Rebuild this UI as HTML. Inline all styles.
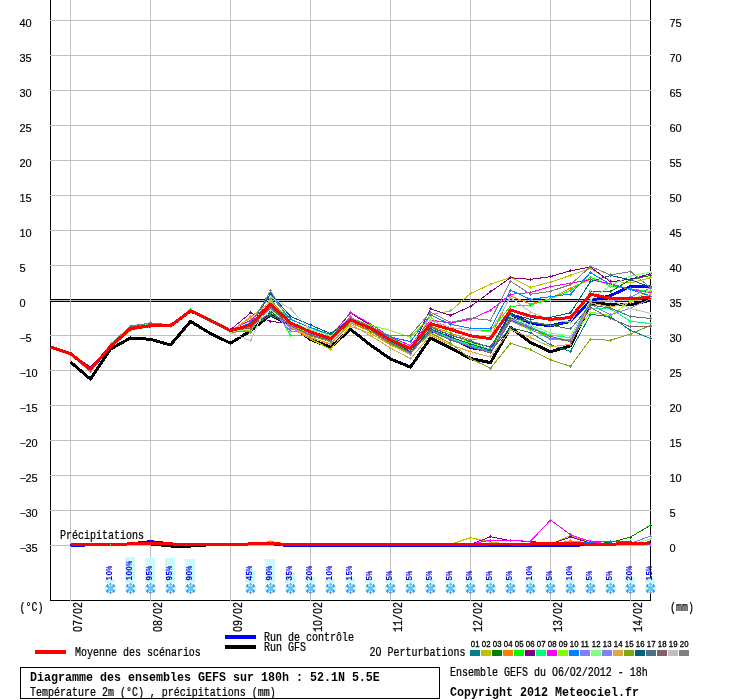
<!DOCTYPE html>
<html><head><meta charset="utf-8"><title>Diagramme des ensembles GEFS</title>
<style>
html,body{margin:0;padding:0;background:#fff;}
body{width:740px;height:700px;overflow:hidden;position:relative;font-family:"Liberation Sans",sans-serif;}
svg{position:absolute;left:0;top:0;display:block;will-change:transform;}
text{font-family:"Liberation Sans",sans-serif;fill:#000;}
.ax{font-size:11px;stroke:#000;stroke-width:0.15px;}
.m{font-family:"Liberation Mono",monospace;font-size:10px;stroke:#000;stroke-width:0.2px;}
.mb{font-family:"Liberation Mono",monospace;font-size:12px;font-weight:bold;}
.t{font-family:"Liberation Sans",sans-serif;font-size:7.8px;letter-spacing:0.1px;stroke:#000;stroke-width:0.3px;}
.pc{font-family:"Liberation Sans",sans-serif;font-size:8.2px;font-weight:bold;letter-spacing:0.44px;fill:#0000ee;}
.g{stroke:#c0c0c0;stroke-width:1;shape-rendering:crispEdges;}
.k{stroke:#000;stroke-width:1;shape-rendering:crispEdges;}
.p{fill:none;stroke-width:1;stroke-linejoin:round;shape-rendering:crispEdges;}
.th{fill:none;stroke-width:3;stroke-linejoin:round;stroke-linecap:butt;shape-rendering:crispEdges;}
</style></head><body>
<svg width="740" height="700" viewBox="0 0 740 700">
<rect x="0" y="0" width="740" height="700" fill="#fff"/>

<g class="k"><line x1="50" y1="299.5" x2="651" y2="299.5"/><line x1="50" y1="301.5" x2="651" y2="301.5"/></g>
<g class="k"><line x1="50.5" y1="0" x2="50.5" y2="601"/><line x1="650.5" y1="0" x2="650.5" y2="601"/><line x1="50" y1="600.5" x2="651" y2="600.5"/></g>
<g class="g">
<line x1="70.5" y1="0" x2="70.5" y2="601"/>
<line x1="150.5" y1="0" x2="150.5" y2="601"/>
<line x1="230.5" y1="0" x2="230.5" y2="601"/>
<line x1="310.5" y1="0" x2="310.5" y2="601"/>
<line x1="390.5" y1="0" x2="390.5" y2="601"/>
<line x1="470.5" y1="0" x2="470.5" y2="601"/>
<line x1="550.5" y1="0" x2="550.5" y2="601"/>
<line x1="630.5" y1="0" x2="630.5" y2="601"/>
<line x1="50" y1="20.5" x2="651" y2="20.5"/>
<line x1="50" y1="55.5" x2="651" y2="55.5"/>
<line x1="50" y1="90.5" x2="651" y2="90.5"/>
<line x1="50" y1="125.5" x2="651" y2="125.5"/>
<line x1="50" y1="160.5" x2="651" y2="160.5"/>
<line x1="50" y1="195.5" x2="651" y2="195.5"/>
<line x1="50" y1="230.5" x2="651" y2="230.5"/>
<line x1="50" y1="265.5" x2="651" y2="265.5"/>
<line x1="50" y1="300.5" x2="651" y2="300.5"/>
<line x1="50" y1="335.5" x2="651" y2="335.5"/>
<line x1="50" y1="370.5" x2="651" y2="370.5"/>
<line x1="50" y1="405.5" x2="651" y2="405.5"/>
<line x1="50" y1="440.5" x2="651" y2="440.5"/>
<line x1="50" y1="475.5" x2="651" y2="475.5"/>
<line x1="50" y1="510.5" x2="651" y2="510.5"/>
<line x1="50" y1="545.5" x2="651" y2="545.5"/>
</g>
<g fill="#c8fafa" shape-rendering="crispEdges">
<rect x="105" y="579" width="10" height="4"/>
<rect x="125" y="557" width="10" height="26"/>
<rect x="145" y="558" width="10" height="25"/>
<rect x="165" y="558" width="10" height="25"/>
<rect x="185" y="559" width="10" height="24"/>
<rect x="245" y="570" width="10" height="13"/>
<rect x="265" y="559" width="10" height="24"/>
<rect x="285" y="573" width="10" height="10"/>
<rect x="305" y="577" width="10" height="6"/>
<rect x="325" y="579" width="10" height="4"/>
<rect x="345" y="578" width="10" height="5"/>
<rect x="365" y="580" width="10" height="3"/>
<rect x="385" y="580" width="10" height="3"/>
<rect x="405" y="580" width="10" height="3"/>
<rect x="425" y="580" width="10" height="3"/>
<rect x="445" y="580" width="10" height="3"/>
<rect x="465" y="580" width="10" height="3"/>
<rect x="485" y="580" width="10" height="3"/>
<rect x="505" y="580" width="10" height="3"/>
<rect x="525" y="579" width="10" height="4"/>
<rect x="545" y="580" width="10" height="3"/>
<rect x="565" y="579" width="10" height="4"/>
<rect x="585" y="580" width="10" height="3"/>
<rect x="605" y="580" width="10" height="3"/>
<rect x="625" y="577" width="10" height="6"/>
<rect x="645" y="578" width="10" height="5"/>
</g>
<g>
<polyline class="th" stroke="#000" stroke-width="2.4" points="70.5,544.6 90.5,544.6 110.5,544.5 130.5,543.9 150.5,543.9 170.5,546.0 190.5,546.0 210.5,544.7 230.5,544.7 250.5,543.9 270.5,543.6 290.5,544.5 310.5,544.4 330.5,544.4 350.5,544.4 370.5,544.4 390.5,544.5 410.5,544.2 430.5,544.2 450.5,544.2 470.5,544.2 490.5,544.0 510.5,544.0 530.5,544.0 550.5,543.6 570.5,543.6 590.5,544.2 610.5,544.2 630.5,543.5 650.5,542.9"/>
<polyline class="p" stroke="#008080" points="70.5,544.3 90.5,544.3 110.5,544.3 130.5,544.3 150.5,544.3 170.5,544.3 190.5,544.3 210.5,544.3 230.5,544.3 250.5,544.3 270.5,544.3 290.5,544.3 310.5,544.3 330.5,544.3 350.5,544.3 370.5,544.3 390.5,544.3 410.5,544.3 430.5,544.3 450.5,544.3 470.5,544.3 490.5,544.3 510.5,544.3 530.5,544.3 550.5,544.3 570.5,544.3 590.5,542.2 610.5,541.6 630.5,541.8 650.5,544.3"/>
<path shape-rendering="crispEdges" fill="#008080" d="M589 542h3v1h-3zM590 541h1v3h-1z"/>
<path shape-rendering="crispEdges" fill="#008080" d="M609 541h3v1h-3zM610 540h1v3h-1z"/>
<path shape-rendering="crispEdges" fill="#008080" d="M629 541h3v1h-3zM630 540h1v3h-1z"/>
<polyline class="p" stroke="#c0c000" points="70.5,544.3 90.5,544.3 110.5,544.3 130.5,544.3 150.5,544.3 170.5,544.3 190.5,544.3 210.5,544.3 230.5,544.3 250.5,544.3 270.5,544.3 290.5,544.3 310.5,544.3 330.5,544.3 350.5,544.3 370.5,544.3 390.5,544.3 410.5,544.3 430.5,544.3 450.5,544.3 470.5,537.7 490.5,542.0 510.5,544.3 530.5,544.3 550.5,544.3 570.5,535.5 590.5,543.0 610.5,544.3 630.5,544.3 650.5,544.3"/>
<path shape-rendering="crispEdges" fill="#c0c000" d="M469 537h3v1h-3zM470 536h1v3h-1z"/>
<path shape-rendering="crispEdges" fill="#c0c000" d="M489 542h3v1h-3zM490 541h1v3h-1z"/>
<path shape-rendering="crispEdges" fill="#c0c000" d="M569 535h3v1h-3zM570 534h1v3h-1z"/>
<path shape-rendering="crispEdges" fill="#c0c000" d="M589 542h3v1h-3zM590 541h1v3h-1z"/>
<polyline class="p" stroke="#008000" points="70.5,544.3 90.5,544.3 110.5,544.3 130.5,544.3 150.5,544.3 170.5,544.3 190.5,544.3 210.5,544.3 230.5,544.3 250.5,544.3 270.5,544.3 290.5,544.3 310.5,544.3 330.5,544.3 350.5,544.3 370.5,544.3 390.5,544.3 410.5,544.3 430.5,544.3 450.5,544.3 470.5,544.3 490.5,544.3 510.5,544.3 530.5,544.3 550.5,544.3 570.5,544.3 590.5,544.0 610.5,542.5 630.5,537.1 650.5,525.2"/>
<path shape-rendering="crispEdges" fill="#008000" d="M609 542h3v1h-3zM610 541h1v3h-1z"/>
<path shape-rendering="crispEdges" fill="#008000" d="M629 537h3v1h-3zM630 536h1v3h-1z"/>
<path shape-rendering="crispEdges" fill="#008000" d="M649 525h3v1h-3zM650 524h1v3h-1z"/>
<polyline class="p" stroke="#ff8000" points="70.5,544.3 90.5,544.3 110.5,544.3 130.5,544.3 150.5,544.3 170.5,544.3 190.5,544.3 210.5,544.3 230.5,544.3 250.5,544.3 270.5,541.5 290.5,544.3 310.5,544.3 330.5,544.3 350.5,544.3 370.5,544.3 390.5,544.3 410.5,544.3 430.5,544.3 450.5,544.3 470.5,544.3 490.5,544.3 510.5,544.3 530.5,544.3 550.5,544.3 570.5,541.0 590.5,543.0 610.5,544.3 630.5,544.3 650.5,544.3"/>
<path shape-rendering="crispEdges" fill="#ff8000" d="M269 541h3v1h-3zM270 540h1v3h-1z"/>
<path shape-rendering="crispEdges" fill="#ff8000" d="M569 540h3v1h-3zM570 539h1v3h-1z"/>
<path shape-rendering="crispEdges" fill="#ff8000" d="M589 542h3v1h-3zM590 541h1v3h-1z"/>
<polyline class="p" stroke="#00ff00" points="70.5,544.3 90.5,544.3 110.5,544.3 130.5,544.3 150.5,544.3 170.5,544.3 190.5,544.3 210.5,544.3 230.5,544.3 250.5,544.3 270.5,544.3 290.5,544.3 310.5,544.3 330.5,544.3 350.5,544.3 370.5,544.3 390.5,544.3 410.5,544.3 430.5,544.3 450.5,544.3 470.5,544.3 490.5,544.3 510.5,544.3 530.5,544.3 550.5,542.0 570.5,543.0 590.5,544.3 610.5,544.3 630.5,544.3 650.5,544.3"/>
<path shape-rendering="crispEdges" fill="#00ff00" d="M549 542h3v1h-3zM550 541h1v3h-1z"/>
<path shape-rendering="crispEdges" fill="#00ff00" d="M569 542h3v1h-3zM570 541h1v3h-1z"/>
<polyline class="p" stroke="#800080" points="70.5,544.3 90.5,544.3 110.5,544.3 130.5,544.3 150.5,544.3 170.5,544.3 190.5,544.3 210.5,544.3 230.5,544.3 250.5,544.3 270.5,544.3 290.5,544.3 310.5,544.3 330.5,544.3 350.5,544.3 370.5,544.3 390.5,544.3 410.5,544.3 430.5,544.3 450.5,544.3 470.5,544.3 490.5,536.8 510.5,540.7 530.5,541.3 550.5,544.0 570.5,537.0 590.5,543.0 610.5,544.3 630.5,544.3 650.5,544.3"/>
<path shape-rendering="crispEdges" fill="#800080" d="M489 536h3v1h-3zM490 535h1v3h-1z"/>
<path shape-rendering="crispEdges" fill="#800080" d="M509 540h3v1h-3zM510 539h1v3h-1z"/>
<path shape-rendering="crispEdges" fill="#800080" d="M529 541h3v1h-3zM530 540h1v3h-1z"/>
<path shape-rendering="crispEdges" fill="#800080" d="M569 536h3v1h-3zM570 535h1v3h-1z"/>
<path shape-rendering="crispEdges" fill="#800080" d="M589 542h3v1h-3zM590 541h1v3h-1z"/>
<polyline class="p" stroke="#ff00ff" points="70.5,544.3 90.5,544.3 110.5,544.3 130.5,544.3 150.5,544.3 170.5,544.3 190.5,544.3 210.5,544.3 230.5,544.3 250.5,544.3 270.5,544.3 290.5,544.3 310.5,544.3 330.5,544.3 350.5,544.3 370.5,544.3 390.5,544.3 410.5,544.3 430.5,544.3 450.5,544.3 470.5,544.3 490.5,540.0 510.5,540.5 530.5,541.3 550.5,520.0 570.5,534.7 590.5,541.5 610.5,544.3 630.5,544.3 650.5,544.3"/>
<path shape-rendering="crispEdges" fill="#ff00ff" d="M489 540h3v1h-3zM490 539h1v3h-1z"/>
<path shape-rendering="crispEdges" fill="#ff00ff" d="M509 540h3v1h-3zM510 539h1v3h-1z"/>
<path shape-rendering="crispEdges" fill="#ff00ff" d="M529 541h3v1h-3zM530 540h1v3h-1z"/>
<path shape-rendering="crispEdges" fill="#ff00ff" d="M549 520h3v1h-3zM550 519h1v3h-1z"/>
<path shape-rendering="crispEdges" fill="#ff00ff" d="M569 534h3v1h-3zM570 533h1v3h-1z"/>
<path shape-rendering="crispEdges" fill="#ff00ff" d="M589 541h3v1h-3zM590 540h1v3h-1z"/>
<polyline class="p" stroke="#0080ff" points="70.5,544.3 90.5,544.3 110.5,544.3 130.5,544.3 150.5,542.5 170.5,544.3 190.5,544.3 210.5,544.3 230.5,544.3 250.5,544.3 270.5,543.0 290.5,544.3 310.5,544.3 330.5,544.3 350.5,544.3 370.5,544.3 390.5,544.3 410.5,544.3 430.5,544.3 450.5,544.3 470.5,544.3 490.5,544.3 510.5,544.3 530.5,544.3 550.5,544.3 570.5,544.3 590.5,542.0 610.5,541.8 630.5,542.2 650.5,544.3"/>
<path shape-rendering="crispEdges" fill="#0080ff" d="M149 542h3v1h-3zM150 541h1v3h-1z"/>
<path shape-rendering="crispEdges" fill="#0080ff" d="M269 542h3v1h-3zM270 541h1v3h-1z"/>
<path shape-rendering="crispEdges" fill="#0080ff" d="M589 542h3v1h-3zM590 541h1v3h-1z"/>
<path shape-rendering="crispEdges" fill="#0080ff" d="M609 541h3v1h-3zM610 540h1v3h-1z"/>
<path shape-rendering="crispEdges" fill="#0080ff" d="M629 542h3v1h-3zM630 541h1v3h-1z"/>
<polyline class="p" stroke="#8080ff" points="70.5,544.3 90.5,544.3 110.5,544.3 130.5,544.3 150.5,544.3 170.5,544.3 190.5,544.3 210.5,544.3 230.5,544.3 250.5,544.3 270.5,544.3 290.5,544.3 310.5,544.3 330.5,544.3 350.5,544.3 370.5,544.3 390.5,544.3 410.5,544.3 430.5,544.3 450.5,544.3 470.5,544.3 490.5,544.3 510.5,544.3 530.5,544.3 550.5,544.3 570.5,544.3 590.5,544.3 610.5,544.3 630.5,543.3 650.5,536.2"/>
<path shape-rendering="crispEdges" fill="#8080ff" d="M629 543h3v1h-3zM630 542h1v3h-1z"/>
<path shape-rendering="crispEdges" fill="#8080ff" d="M649 536h3v1h-3zM650 535h1v3h-1z"/>
<polyline class="p" stroke="#80ff80" points="70.5,544.3 90.5,544.3 110.5,544.3 130.5,544.3 150.5,541.3 170.5,544.3 190.5,544.3 210.5,544.3 230.5,544.3 250.5,544.3 270.5,542.0 290.5,544.3 310.5,544.3 330.5,544.3 350.5,544.3 370.5,544.3 390.5,544.3 410.5,544.3 430.5,544.3 450.5,544.3 470.5,544.3 490.5,544.3 510.5,544.3 530.5,544.3 550.5,544.3 570.5,544.3 590.5,544.3 610.5,544.3 630.5,544.3 650.5,539.0"/>
<path shape-rendering="crispEdges" fill="#80ff80" d="M149 541h3v1h-3zM150 540h1v3h-1z"/>
<path shape-rendering="crispEdges" fill="#80ff80" d="M269 542h3v1h-3zM270 541h1v3h-1z"/>
<path shape-rendering="crispEdges" fill="#80ff80" d="M649 538h3v1h-3zM650 537h1v3h-1z"/>
<polyline class="th" stroke="#0000ff" stroke-width="2.4" points="70.5,546.0 90.5,544.6 110.5,544.5 130.5,543.9 150.5,541.6 170.5,543.9 190.5,544.7 210.5,544.7 230.5,544.7 250.5,543.9 270.5,543.6 290.5,545.9 310.5,545.9 330.5,545.9 350.5,545.9 370.5,545.6 390.5,545.9 410.5,545.9 430.5,545.9 450.5,545.9 470.5,545.9 490.5,545.9 510.5,545.9 530.5,545.9 550.5,545.9 570.5,545.7 590.5,544.2 610.5,544.2 630.5,543.5 650.5,542.9"/>
<polyline class="th" stroke="#ff0000" stroke-width="3.4" points="70.5,544.6 90.5,544.6 110.5,544.5 130.5,543.9 150.5,543.9 170.5,543.9 190.5,544.7 210.5,544.7 230.5,544.7 250.5,543.9 270.5,543.6 290.5,544.5 310.5,544.4 330.5,544.4 350.5,544.4 370.5,544.4 390.5,544.5 410.5,544.2 430.5,544.2 450.5,544.2 470.5,544.2 490.5,544.0 510.5,544.0 530.5,544.0 550.5,543.6 570.5,543.6 590.5,544.2 610.5,544.2 630.5,543.5 650.5,542.9"/>
</g>
<g>
<polyline class="th" stroke="#000" stroke-width="2.6" points="70.5,362.0 90.5,379.2 110.5,349.0 130.5,338.0 150.5,339.3 170.5,345.0 190.5,321.4 210.5,333.5 230.5,343.2 250.5,331.0 270.5,315.0 290.5,325.0 310.5,339.5 330.5,347.1 350.5,329.3 370.5,345.0 390.5,359.0 410.5,367.1 430.5,338.0 450.5,348.0 470.5,358.6 490.5,362.6 510.5,327.6 530.5,342.5 550.5,351.8 570.5,345.8 590.5,303.3 610.5,304.3 630.5,304.8 650.5,300.1"/>
<polyline class="th" stroke="#0000ff" stroke-width="2.7" points="70.5,353.8 90.5,369.5 110.5,346.7 130.5,328.8 150.5,325.9 170.5,325.9 190.5,310.9 210.5,320.6 230.5,330.9 250.5,326.0 270.5,305.3 290.5,323.9 310.5,333.0 330.5,339.6 350.5,321.0 370.5,329.3 390.5,341.0 410.5,349.6 430.5,330.3 450.5,337.5 470.5,347.6 490.5,350.8 510.5,314.0 530.5,323.3 550.5,325.8 570.5,321.4 590.5,300.7 610.5,295.6 630.5,286.4 650.5,286.6"/>
<polyline class="p" stroke="#008080" points="70.5,354.1 90.5,370.3 110.5,346.5 130.5,327.6 150.5,325.2 170.5,326.2 190.5,311.2 210.5,320.4 230.5,331.2 250.5,327.0 270.5,315.3 290.5,324.9 310.5,333.0 330.5,340.6 350.5,322.0 370.5,330.3 390.5,343.0 410.5,351.6 430.5,330.0 450.5,338.0 470.5,346.0 490.5,351.0 510.5,327.6 530.5,332.6 550.5,345.0 570.5,351.4 590.5,314.4 610.5,316.8 630.5,330.3 650.5,338.6"/>
<polyline class="p" stroke="#c0c000" points="70.5,353.6 90.5,369.8 110.5,348.1 130.5,330.4 150.5,326.2 170.5,326.2 190.5,311.2 210.5,320.9 230.5,332.2 250.5,330.0 270.5,299.3 290.5,326.9 310.5,339.0 330.5,349.1 350.5,326.4 370.5,333.3 390.5,345.0 410.5,354.6 430.5,314.5 450.5,311.0 470.5,293.5 490.5,284.3 510.5,277.3 530.5,287.3 550.5,282.2 570.5,275.3 590.5,268.6 610.5,280.8 630.5,283.0 650.5,277.8"/>
<polyline class="p" stroke="#008000" points="70.5,353.6 90.5,369.3 110.5,346.5 130.5,328.1 150.5,325.7 170.5,325.7 190.5,310.7 210.5,320.4 230.5,331.2 250.5,328.0 270.5,311.3 290.5,325.9 310.5,334.0 330.5,339.6 350.5,321.0 370.5,329.3 390.5,342.0 410.5,351.6 430.5,328.0 450.5,335.0 470.5,342.0 490.5,347.0 510.5,315.0 530.5,322.0 550.5,325.6 570.5,322.0 590.5,291.6 610.5,291.6 630.5,279.6 650.5,275.6"/>
<polyline class="p" stroke="#ff8000" points="70.5,354.1 90.5,369.8 110.5,347.0 130.5,329.1 150.5,326.2 170.5,326.2 190.5,310.7 210.5,320.9 230.5,331.7 250.5,317.0 270.5,302.3 290.5,327.9 310.5,338.0 330.5,343.6 350.5,323.0 370.5,331.3 390.5,344.0 410.5,353.6 430.5,326.0 450.5,333.0 470.5,340.0 490.5,337.0 510.5,296.0 530.5,304.0 550.5,298.6 570.5,288.0 590.5,279.4 610.5,284.2 630.5,289.8 650.5,292.8"/>
<polyline class="p" stroke="#00ff00" points="70.5,353.1 90.5,369.3 110.5,346.0 130.5,327.6 150.5,325.2 170.5,325.7 190.5,309.7 210.5,320.4 230.5,331.2 250.5,332.0 270.5,301.3 290.5,335.4 310.5,335.0 330.5,337.6 350.5,320.0 370.5,327.3 390.5,338.0 410.5,347.6 430.5,320.0 450.5,327.7 470.5,330.0 490.5,331.0 510.5,306.3 530.5,305.2 550.5,298.8 570.5,290.3 590.5,277.2 610.5,286.0 630.5,288.8 650.5,291.5"/>
<polyline class="p" stroke="#800080" points="70.5,353.6 90.5,366.8 110.5,346.5 130.5,328.6 150.5,325.7 170.5,325.7 190.5,311.2 210.5,320.4 230.5,329.7 250.5,313.0 270.5,321.3 290.5,323.9 310.5,332.0 330.5,336.6 350.5,313.0 370.5,325.3 390.5,340.0 410.5,350.6 430.5,309.0 450.5,315.3 470.5,306.5 490.5,291.8 510.5,277.7 530.5,279.4 550.5,276.6 570.5,270.8 590.5,267.0 610.5,281.8 630.5,279.2 650.5,273.9"/>
<polyline class="p" stroke="#00ff80" points="70.5,353.6 90.5,369.8 110.5,346.0 130.5,326.0 150.5,324.7 170.5,325.7 190.5,310.7 210.5,319.9 230.5,330.7 250.5,326.0 270.5,302.3 290.5,318.9 310.5,328.0 330.5,335.6 350.5,321.0 370.5,329.3 390.5,341.0 410.5,350.6 430.5,329.0 450.5,338.0 470.5,345.0 490.5,350.0 510.5,319.0 530.5,327.0 550.5,335.3 570.5,337.6 590.5,308.0 610.5,308.7 630.5,321.2 650.5,323.6"/>
<polyline class="p" stroke="#ff00ff" points="70.5,353.6 90.5,369.3 110.5,346.5 130.5,328.6 150.5,325.7 170.5,325.7 190.5,310.7 210.5,320.4 230.5,330.2 250.5,320.5 270.5,303.3 290.5,324.9 310.5,333.0 330.5,336.6 350.5,312.5 370.5,324.0 390.5,337.0 410.5,345.6 430.5,320.0 450.5,323.1 470.5,319.4 490.5,310.2 510.5,294.3 530.5,292.5 550.5,286.5 570.5,283.3 590.5,279.6 610.5,283.8 630.5,289.3 650.5,292.8"/>
<polyline class="p" stroke="#80ff00" points="70.5,353.6 90.5,369.3 110.5,347.0 130.5,328.6 150.5,326.2 170.5,326.2 190.5,310.7 210.5,321.4 230.5,332.2 250.5,331.0 270.5,300.3 290.5,323.9 310.5,334.0 330.5,333.6 350.5,318.0 370.5,325.3 390.5,330.5 410.5,337.1 430.5,317.0 450.5,334.0 470.5,343.0 490.5,349.0 510.5,321.0 530.5,330.0 550.5,337.0 570.5,340.0 590.5,312.1 610.5,315.7 630.5,301.3 650.5,290.4"/>
<polyline class="p" stroke="#0080ff" points="70.5,353.6 90.5,369.3 110.5,344.5 130.5,327.6 150.5,325.2 170.5,325.7 190.5,311.2 210.5,320.4 230.5,330.7 250.5,323.0 270.5,295.3 290.5,319.4 310.5,327.5 330.5,334.6 350.5,318.0 370.5,327.3 390.5,337.0 410.5,341.6 430.5,315.0 450.5,324.3 470.5,328.3 490.5,328.8 510.5,290.2 530.5,299.4 550.5,296.6 570.5,294.1 590.5,272.7 610.5,284.4 630.5,289.4 650.5,296.0"/>
<polyline class="p" stroke="#8080ff" points="70.5,353.6 90.5,369.8 110.5,346.5 130.5,328.6 150.5,325.7 170.5,326.2 190.5,311.2 210.5,320.9 230.5,330.7 250.5,327.0 270.5,308.3 290.5,331.4 310.5,332.0 330.5,336.6 350.5,317.0 370.5,328.3 390.5,342.0 410.5,351.6 430.5,330.0 450.5,339.0 470.5,346.0 490.5,352.0 510.5,318.3 530.5,326.7 550.5,338.7 570.5,339.3 590.5,301.3 610.5,301.9 630.5,297.0 650.5,288.0"/>
<polyline class="p" stroke="#80ff80" points="70.5,354.1 90.5,369.3 110.5,346.5 130.5,327.6 150.5,325.7 170.5,325.7 190.5,310.2 210.5,320.4 230.5,331.7 250.5,329.0 270.5,310.8 290.5,321.9 310.5,329.5 330.5,335.6 350.5,321.0 370.5,330.3 390.5,341.0 410.5,350.6 430.5,328.0 450.5,337.0 470.5,344.0 490.5,349.0 510.5,317.0 530.5,325.0 550.5,333.0 570.5,336.0 590.5,300.0 610.5,285.3 630.5,276.1 650.5,272.1"/>
<polyline class="p" stroke="#8080ff" points="70.5,353.6 90.5,369.8 110.5,347.0 130.5,328.6 150.5,325.7 170.5,325.7 190.5,310.7 210.5,320.4 230.5,331.2 250.5,324.0 270.5,306.3 290.5,328.9 310.5,334.0 330.5,339.6 350.5,322.0 370.5,329.3 390.5,343.0 410.5,353.6 430.5,331.0 450.5,340.0 470.5,347.0 490.5,353.0 510.5,321.0 530.5,329.0 550.5,339.5 570.5,340.5 590.5,304.0 610.5,315.0 630.5,308.1 650.5,298.9"/>
<polyline class="p" stroke="#e0a840" points="70.5,354.1 90.5,369.3 110.5,347.0 130.5,330.2 150.5,326.7 170.5,326.2 190.5,311.2 210.5,321.4 230.5,331.7 250.5,318.0 270.5,301.3 290.5,326.9 310.5,337.0 330.5,344.6 350.5,324.0 370.5,335.7 390.5,348.0 410.5,358.6 430.5,335.1 450.5,344.9 470.5,351.7 490.5,356.9 510.5,329.6 530.5,337.6 550.5,346.7 570.5,344.4 590.5,303.0 610.5,307.0 630.5,302.4 650.5,294.4"/>
<polyline class="p" stroke="#80a810" points="70.5,353.6 90.5,369.3 110.5,346.5 130.5,328.6 150.5,326.2 170.5,325.7 190.5,310.7 210.5,320.9 230.5,332.2 250.5,331.5 270.5,298.8 290.5,324.9 310.5,336.0 330.5,341.6 350.5,322.0 370.5,331.3 390.5,344.0 410.5,352.6 430.5,333.0 450.5,343.1 470.5,358.6 490.5,368.3 510.5,343.3 530.5,349.6 550.5,359.9 570.5,366.3 590.5,339.2 610.5,340.3 630.5,334.0 650.5,325.5"/>
<polyline class="p" stroke="#006080" points="70.5,353.1 90.5,369.3 110.5,344.5 130.5,326.0 150.5,323.1 170.5,325.7 190.5,310.7 210.5,320.4 230.5,330.7 250.5,324.0 270.5,293.6 290.5,316.4 310.5,325.0 330.5,333.6 350.5,319.0 370.5,328.3 390.5,341.0 410.5,351.6 430.5,329.0 450.5,337.0 470.5,344.0 490.5,350.0 510.5,313.7 530.5,319.4 550.5,317.3 570.5,312.9 590.5,281.6 610.5,275.5 630.5,279.8 650.5,287.0"/>
<polyline class="p" stroke="#507080" points="70.5,353.6 90.5,370.3 110.5,345.5 130.5,326.6 150.5,323.1 170.5,324.7 190.5,310.7 210.5,320.4 230.5,331.2 250.5,326.0 270.5,313.3 290.5,323.9 310.5,332.0 330.5,338.6 350.5,319.0 370.5,328.3 390.5,341.0 410.5,349.6 430.5,327.0 450.5,335.0 470.5,341.0 490.5,347.5 510.5,318.0 530.5,321.7 550.5,325.2 570.5,329.0 590.5,305.0 610.5,308.1 630.5,316.5 650.5,318.5"/>
<polyline class="p" stroke="#806070" points="70.5,353.6 90.5,369.3 110.5,346.5 130.5,328.6 150.5,325.7 170.5,325.7 190.5,310.7 210.5,320.4 230.5,330.7 250.5,328.0 270.5,307.3 290.5,325.9 310.5,335.0 330.5,340.6 350.5,321.0 370.5,330.3 390.5,343.0 410.5,352.6 430.5,331.0 450.5,340.0 470.5,347.0 490.5,353.0 510.5,320.0 530.5,328.0 550.5,336.4 570.5,341.6 590.5,307.6 610.5,318.4 630.5,326.8 650.5,326.2"/>
<polyline class="p" stroke="#c0c0c0" points="70.5,353.6 90.5,370.8 110.5,346.5 130.5,328.6 150.5,325.7 170.5,325.7 190.5,310.7 210.5,320.4 230.5,332.7 250.5,340.7 270.5,296.8 290.5,308.9 310.5,330.0 330.5,339.6 350.5,322.0 370.5,329.3 390.5,340.0 410.5,346.6 430.5,321.0 450.5,327.5 470.5,330.5 490.5,331.5 510.5,297.5 530.5,312.0 550.5,320.0 570.5,322.0 590.5,291.0 610.5,300.0 630.5,308.6 650.5,313.3"/>
<polyline class="p" stroke="#808080" points="70.5,353.6 90.5,372.3 110.5,344.0 130.5,326.3 150.5,322.9 170.5,325.2 190.5,310.7 210.5,320.4 230.5,330.7 250.5,325.0 270.5,291.0 290.5,322.9 310.5,333.0 330.5,339.6 350.5,318.0 370.5,326.3 390.5,336.0 410.5,335.1 430.5,312.3 450.5,322.3 470.5,318.2 490.5,320.3 510.5,281.2 530.5,294.2 550.5,291.3 570.5,284.7 590.5,266.4 610.5,275.0 630.5,271.5 650.5,287.6"/>
<g fill="#008080" shape-rendering="crispEdges"><path d="M129 327h3v1h-3zM130 326h1v3h-1z"/><path d="M149 325h3v1h-3zM150 324h1v3h-1z"/><path d="M169 326h3v1h-3zM170 325h1v3h-1z"/><path d="M189 311h3v1h-3zM190 310h1v3h-1z"/><path d="M209 320h3v1h-3zM210 319h1v3h-1z"/><path d="M229 331h3v1h-3zM230 330h1v3h-1z"/><path d="M249 326h3v1h-3zM250 325h1v3h-1z"/><path d="M269 315h3v1h-3zM270 314h1v3h-1z"/><path d="M289 324h3v1h-3zM290 323h1v3h-1z"/><path d="M309 332h3v1h-3zM310 331h1v3h-1z"/><path d="M329 340h3v1h-3zM330 339h1v3h-1z"/><path d="M349 322h3v1h-3zM350 321h1v3h-1z"/><path d="M369 330h3v1h-3zM370 329h1v3h-1z"/><path d="M389 342h3v1h-3zM390 341h1v3h-1z"/><path d="M409 351h3v1h-3zM410 350h1v3h-1z"/><path d="M429 330h3v1h-3zM430 329h1v3h-1z"/><path d="M449 338h3v1h-3zM450 337h1v3h-1z"/><path d="M469 346h3v1h-3zM470 345h1v3h-1z"/><path d="M489 350h3v1h-3zM490 349h1v3h-1z"/><path d="M509 327h3v1h-3zM510 326h1v3h-1z"/><path d="M529 332h3v1h-3zM530 331h1v3h-1z"/><path d="M549 344h3v1h-3zM550 343h1v3h-1z"/><path d="M569 351h3v1h-3zM570 350h1v3h-1z"/><path d="M589 314h3v1h-3zM590 313h1v3h-1z"/><path d="M609 316h3v1h-3zM610 315h1v3h-1z"/><path d="M629 330h3v1h-3zM630 329h1v3h-1z"/><path d="M649 338h3v1h-3zM650 337h1v3h-1z"/></g>
<g fill="#c0c000" shape-rendering="crispEdges"><path d="M129 330h3v1h-3zM130 329h1v3h-1z"/><path d="M149 326h3v1h-3zM150 325h1v3h-1z"/><path d="M169 326h3v1h-3zM170 325h1v3h-1z"/><path d="M189 311h3v1h-3zM190 310h1v3h-1z"/><path d="M209 320h3v1h-3zM210 319h1v3h-1z"/><path d="M229 332h3v1h-3zM230 331h1v3h-1z"/><path d="M249 330h3v1h-3zM250 329h1v3h-1z"/><path d="M269 299h3v1h-3zM270 298h1v3h-1z"/><path d="M289 326h3v1h-3zM290 325h1v3h-1z"/><path d="M309 338h3v1h-3zM310 337h1v3h-1z"/><path d="M329 349h3v1h-3zM330 348h1v3h-1z"/><path d="M349 326h3v1h-3zM350 325h1v3h-1z"/><path d="M369 333h3v1h-3zM370 332h1v3h-1z"/><path d="M389 344h3v1h-3zM390 343h1v3h-1z"/><path d="M409 354h3v1h-3zM410 353h1v3h-1z"/><path d="M429 314h3v1h-3zM430 313h1v3h-1z"/><path d="M449 310h3v1h-3zM450 309h1v3h-1z"/><path d="M469 293h3v1h-3zM470 292h1v3h-1z"/><path d="M489 284h3v1h-3zM490 283h1v3h-1z"/><path d="M509 277h3v1h-3zM510 276h1v3h-1z"/><path d="M529 287h3v1h-3zM530 286h1v3h-1z"/><path d="M549 282h3v1h-3zM550 281h1v3h-1z"/><path d="M569 275h3v1h-3zM570 274h1v3h-1z"/><path d="M589 268h3v1h-3zM590 267h1v3h-1z"/><path d="M609 280h3v1h-3zM610 279h1v3h-1z"/><path d="M629 282h3v1h-3zM630 281h1v3h-1z"/><path d="M649 277h3v1h-3zM650 276h1v3h-1z"/></g>
<g fill="#008000" shape-rendering="crispEdges"><path d="M129 328h3v1h-3zM130 327h1v3h-1z"/><path d="M149 325h3v1h-3zM150 324h1v3h-1z"/><path d="M169 325h3v1h-3zM170 324h1v3h-1z"/><path d="M189 310h3v1h-3zM190 309h1v3h-1z"/><path d="M209 320h3v1h-3zM210 319h1v3h-1z"/><path d="M229 331h3v1h-3zM230 330h1v3h-1z"/><path d="M249 328h3v1h-3zM250 327h1v3h-1z"/><path d="M269 311h3v1h-3zM270 310h1v3h-1z"/><path d="M289 325h3v1h-3zM290 324h1v3h-1z"/><path d="M309 334h3v1h-3zM310 333h1v3h-1z"/><path d="M329 339h3v1h-3zM330 338h1v3h-1z"/><path d="M349 320h3v1h-3zM350 319h1v3h-1z"/><path d="M369 329h3v1h-3zM370 328h1v3h-1z"/><path d="M389 342h3v1h-3zM390 341h1v3h-1z"/><path d="M409 351h3v1h-3zM410 350h1v3h-1z"/><path d="M429 328h3v1h-3zM430 327h1v3h-1z"/><path d="M449 334h3v1h-3zM450 333h1v3h-1z"/><path d="M469 342h3v1h-3zM470 341h1v3h-1z"/><path d="M489 346h3v1h-3zM490 345h1v3h-1z"/><path d="M509 314h3v1h-3zM510 313h1v3h-1z"/><path d="M529 322h3v1h-3zM530 321h1v3h-1z"/><path d="M549 325h3v1h-3zM550 324h1v3h-1z"/><path d="M569 322h3v1h-3zM570 321h1v3h-1z"/><path d="M589 291h3v1h-3zM590 290h1v3h-1z"/><path d="M609 291h3v1h-3zM610 290h1v3h-1z"/><path d="M629 279h3v1h-3zM630 278h1v3h-1z"/><path d="M649 275h3v1h-3zM650 274h1v3h-1z"/></g>
<g fill="#ff8000" shape-rendering="crispEdges"><path d="M129 329h3v1h-3zM130 328h1v3h-1z"/><path d="M149 326h3v1h-3zM150 325h1v3h-1z"/><path d="M169 326h3v1h-3zM170 325h1v3h-1z"/><path d="M189 310h3v1h-3zM190 309h1v3h-1z"/><path d="M209 320h3v1h-3zM210 319h1v3h-1z"/><path d="M229 331h3v1h-3zM230 330h1v3h-1z"/><path d="M249 316h3v1h-3zM250 315h1v3h-1z"/><path d="M269 302h3v1h-3zM270 301h1v3h-1z"/><path d="M289 327h3v1h-3zM290 326h1v3h-1z"/><path d="M309 338h3v1h-3zM310 337h1v3h-1z"/><path d="M329 343h3v1h-3zM330 342h1v3h-1z"/><path d="M349 322h3v1h-3zM350 321h1v3h-1z"/><path d="M369 331h3v1h-3zM370 330h1v3h-1z"/><path d="M389 344h3v1h-3zM390 343h1v3h-1z"/><path d="M409 353h3v1h-3zM410 352h1v3h-1z"/><path d="M429 326h3v1h-3zM430 325h1v3h-1z"/><path d="M449 332h3v1h-3zM450 331h1v3h-1z"/><path d="M469 340h3v1h-3zM470 339h1v3h-1z"/><path d="M489 336h3v1h-3zM490 335h1v3h-1z"/><path d="M509 296h3v1h-3zM510 295h1v3h-1z"/><path d="M529 304h3v1h-3zM530 303h1v3h-1z"/><path d="M549 298h3v1h-3zM550 297h1v3h-1z"/><path d="M569 288h3v1h-3zM570 287h1v3h-1z"/><path d="M589 279h3v1h-3zM590 278h1v3h-1z"/><path d="M609 284h3v1h-3zM610 283h1v3h-1z"/><path d="M629 289h3v1h-3zM630 288h1v3h-1z"/><path d="M649 292h3v1h-3zM650 291h1v3h-1z"/></g>
<g fill="#00ff00" shape-rendering="crispEdges"><path d="M129 327h3v1h-3zM130 326h1v3h-1z"/><path d="M149 325h3v1h-3zM150 324h1v3h-1z"/><path d="M169 325h3v1h-3zM170 324h1v3h-1z"/><path d="M189 309h3v1h-3zM190 308h1v3h-1z"/><path d="M209 320h3v1h-3zM210 319h1v3h-1z"/><path d="M229 331h3v1h-3zM230 330h1v3h-1z"/><path d="M249 332h3v1h-3zM250 331h1v3h-1z"/><path d="M269 301h3v1h-3zM270 300h1v3h-1z"/><path d="M289 335h3v1h-3zM290 334h1v3h-1z"/><path d="M309 334h3v1h-3zM310 333h1v3h-1z"/><path d="M329 337h3v1h-3zM330 336h1v3h-1z"/><path d="M349 320h3v1h-3zM350 319h1v3h-1z"/><path d="M369 327h3v1h-3zM370 326h1v3h-1z"/><path d="M389 338h3v1h-3zM390 337h1v3h-1z"/><path d="M409 347h3v1h-3zM410 346h1v3h-1z"/><path d="M429 320h3v1h-3zM430 319h1v3h-1z"/><path d="M449 327h3v1h-3zM450 326h1v3h-1z"/><path d="M469 330h3v1h-3zM470 329h1v3h-1z"/><path d="M489 330h3v1h-3zM490 329h1v3h-1z"/><path d="M509 306h3v1h-3zM510 305h1v3h-1z"/><path d="M529 305h3v1h-3zM530 304h1v3h-1z"/><path d="M549 298h3v1h-3zM550 297h1v3h-1z"/><path d="M569 290h3v1h-3zM570 289h1v3h-1z"/><path d="M589 277h3v1h-3zM590 276h1v3h-1z"/><path d="M609 286h3v1h-3zM610 285h1v3h-1z"/><path d="M629 288h3v1h-3zM630 287h1v3h-1z"/><path d="M649 291h3v1h-3zM650 290h1v3h-1z"/></g>
<g fill="#800080" shape-rendering="crispEdges"><path d="M129 328h3v1h-3zM130 327h1v3h-1z"/><path d="M149 325h3v1h-3zM150 324h1v3h-1z"/><path d="M169 325h3v1h-3zM170 324h1v3h-1z"/><path d="M189 311h3v1h-3zM190 310h1v3h-1z"/><path d="M209 320h3v1h-3zM210 319h1v3h-1z"/><path d="M229 329h3v1h-3zM230 328h1v3h-1z"/><path d="M249 312h3v1h-3zM250 311h1v3h-1z"/><path d="M269 321h3v1h-3zM270 320h1v3h-1z"/><path d="M289 323h3v1h-3zM290 322h1v3h-1z"/><path d="M309 332h3v1h-3zM310 331h1v3h-1z"/><path d="M329 336h3v1h-3zM330 335h1v3h-1z"/><path d="M349 312h3v1h-3zM350 311h1v3h-1z"/><path d="M369 325h3v1h-3zM370 324h1v3h-1z"/><path d="M389 340h3v1h-3zM390 339h1v3h-1z"/><path d="M409 350h3v1h-3zM410 349h1v3h-1z"/><path d="M429 308h3v1h-3zM430 307h1v3h-1z"/><path d="M449 315h3v1h-3zM450 314h1v3h-1z"/><path d="M469 306h3v1h-3zM470 305h1v3h-1z"/><path d="M489 291h3v1h-3zM490 290h1v3h-1z"/><path d="M509 277h3v1h-3zM510 276h1v3h-1z"/><path d="M529 279h3v1h-3zM530 278h1v3h-1z"/><path d="M549 276h3v1h-3zM550 275h1v3h-1z"/><path d="M569 270h3v1h-3zM570 269h1v3h-1z"/><path d="M589 266h3v1h-3zM590 265h1v3h-1z"/><path d="M609 281h3v1h-3zM610 280h1v3h-1z"/><path d="M629 279h3v1h-3zM630 278h1v3h-1z"/><path d="M649 273h3v1h-3zM650 272h1v3h-1z"/></g>
<g fill="#00ff80" shape-rendering="crispEdges"><path d="M129 326h3v1h-3zM130 325h1v3h-1z"/><path d="M149 324h3v1h-3zM150 323h1v3h-1z"/><path d="M169 325h3v1h-3zM170 324h1v3h-1z"/><path d="M189 310h3v1h-3zM190 309h1v3h-1z"/><path d="M209 319h3v1h-3zM210 318h1v3h-1z"/><path d="M229 330h3v1h-3zM230 329h1v3h-1z"/><path d="M249 326h3v1h-3zM250 325h1v3h-1z"/><path d="M269 302h3v1h-3zM270 301h1v3h-1z"/><path d="M289 318h3v1h-3zM290 317h1v3h-1z"/><path d="M309 328h3v1h-3zM310 327h1v3h-1z"/><path d="M329 335h3v1h-3zM330 334h1v3h-1z"/><path d="M349 320h3v1h-3zM350 319h1v3h-1z"/><path d="M369 329h3v1h-3zM370 328h1v3h-1z"/><path d="M389 340h3v1h-3zM390 339h1v3h-1z"/><path d="M409 350h3v1h-3zM410 349h1v3h-1z"/><path d="M429 328h3v1h-3zM430 327h1v3h-1z"/><path d="M449 338h3v1h-3zM450 337h1v3h-1z"/><path d="M469 344h3v1h-3zM470 343h1v3h-1z"/><path d="M489 350h3v1h-3zM490 349h1v3h-1z"/><path d="M509 318h3v1h-3zM510 317h1v3h-1z"/><path d="M529 326h3v1h-3zM530 325h1v3h-1z"/><path d="M549 335h3v1h-3zM550 334h1v3h-1z"/><path d="M569 337h3v1h-3zM570 336h1v3h-1z"/><path d="M589 308h3v1h-3zM590 307h1v3h-1z"/><path d="M609 308h3v1h-3zM610 307h1v3h-1z"/><path d="M629 321h3v1h-3zM630 320h1v3h-1z"/><path d="M649 323h3v1h-3zM650 322h1v3h-1z"/></g>
<g fill="#ff00ff" shape-rendering="crispEdges"><path d="M129 328h3v1h-3zM130 327h1v3h-1z"/><path d="M149 325h3v1h-3zM150 324h1v3h-1z"/><path d="M169 325h3v1h-3zM170 324h1v3h-1z"/><path d="M189 310h3v1h-3zM190 309h1v3h-1z"/><path d="M209 320h3v1h-3zM210 319h1v3h-1z"/><path d="M229 330h3v1h-3zM230 329h1v3h-1z"/><path d="M249 320h3v1h-3zM250 319h1v3h-1z"/><path d="M269 303h3v1h-3zM270 302h1v3h-1z"/><path d="M289 324h3v1h-3zM290 323h1v3h-1z"/><path d="M309 332h3v1h-3zM310 331h1v3h-1z"/><path d="M329 336h3v1h-3zM330 335h1v3h-1z"/><path d="M349 312h3v1h-3zM350 311h1v3h-1z"/><path d="M369 324h3v1h-3zM370 323h1v3h-1z"/><path d="M389 336h3v1h-3zM390 335h1v3h-1z"/><path d="M409 345h3v1h-3zM410 344h1v3h-1z"/><path d="M429 320h3v1h-3zM430 319h1v3h-1z"/><path d="M449 323h3v1h-3zM450 322h1v3h-1z"/><path d="M469 319h3v1h-3zM470 318h1v3h-1z"/><path d="M489 310h3v1h-3zM490 309h1v3h-1z"/><path d="M509 294h3v1h-3zM510 293h1v3h-1z"/><path d="M529 292h3v1h-3zM530 291h1v3h-1z"/><path d="M549 286h3v1h-3zM550 285h1v3h-1z"/><path d="M569 283h3v1h-3zM570 282h1v3h-1z"/><path d="M589 279h3v1h-3zM590 278h1v3h-1z"/><path d="M609 283h3v1h-3zM610 282h1v3h-1z"/><path d="M629 289h3v1h-3zM630 288h1v3h-1z"/><path d="M649 292h3v1h-3zM650 291h1v3h-1z"/></g>
<g fill="#80ff00" shape-rendering="crispEdges"><path d="M129 328h3v1h-3zM130 327h1v3h-1z"/><path d="M149 326h3v1h-3zM150 325h1v3h-1z"/><path d="M169 326h3v1h-3zM170 325h1v3h-1z"/><path d="M189 310h3v1h-3zM190 309h1v3h-1z"/><path d="M209 321h3v1h-3zM210 320h1v3h-1z"/><path d="M229 332h3v1h-3zM230 331h1v3h-1z"/><path d="M249 330h3v1h-3zM250 329h1v3h-1z"/><path d="M269 300h3v1h-3zM270 299h1v3h-1z"/><path d="M289 323h3v1h-3zM290 322h1v3h-1z"/><path d="M309 334h3v1h-3zM310 333h1v3h-1z"/><path d="M329 333h3v1h-3zM330 332h1v3h-1z"/><path d="M349 318h3v1h-3zM350 317h1v3h-1z"/><path d="M369 325h3v1h-3zM370 324h1v3h-1z"/><path d="M389 330h3v1h-3zM390 329h1v3h-1z"/><path d="M409 337h3v1h-3zM410 336h1v3h-1z"/><path d="M429 316h3v1h-3zM430 315h1v3h-1z"/><path d="M449 334h3v1h-3zM450 333h1v3h-1z"/><path d="M469 342h3v1h-3zM470 341h1v3h-1z"/><path d="M489 348h3v1h-3zM490 347h1v3h-1z"/><path d="M509 320h3v1h-3zM510 319h1v3h-1z"/><path d="M529 330h3v1h-3zM530 329h1v3h-1z"/><path d="M549 336h3v1h-3zM550 335h1v3h-1z"/><path d="M569 340h3v1h-3zM570 339h1v3h-1z"/><path d="M589 312h3v1h-3zM590 311h1v3h-1z"/><path d="M609 315h3v1h-3zM610 314h1v3h-1z"/><path d="M629 301h3v1h-3zM630 300h1v3h-1z"/><path d="M649 290h3v1h-3zM650 289h1v3h-1z"/></g>
<g fill="#0080ff" shape-rendering="crispEdges"><path d="M129 327h3v1h-3zM130 326h1v3h-1z"/><path d="M149 325h3v1h-3zM150 324h1v3h-1z"/><path d="M169 325h3v1h-3zM170 324h1v3h-1z"/><path d="M189 311h3v1h-3zM190 310h1v3h-1z"/><path d="M209 320h3v1h-3zM210 319h1v3h-1z"/><path d="M229 330h3v1h-3zM230 329h1v3h-1z"/><path d="M249 322h3v1h-3zM250 321h1v3h-1z"/><path d="M269 295h3v1h-3zM270 294h1v3h-1z"/><path d="M289 319h3v1h-3zM290 318h1v3h-1z"/><path d="M309 327h3v1h-3zM310 326h1v3h-1z"/><path d="M329 334h3v1h-3zM330 333h1v3h-1z"/><path d="M349 318h3v1h-3zM350 317h1v3h-1z"/><path d="M369 327h3v1h-3zM370 326h1v3h-1z"/><path d="M389 336h3v1h-3zM390 335h1v3h-1z"/><path d="M409 341h3v1h-3zM410 340h1v3h-1z"/><path d="M429 314h3v1h-3zM430 313h1v3h-1z"/><path d="M449 324h3v1h-3zM450 323h1v3h-1z"/><path d="M469 328h3v1h-3zM470 327h1v3h-1z"/><path d="M489 328h3v1h-3zM490 327h1v3h-1z"/><path d="M509 290h3v1h-3zM510 289h1v3h-1z"/><path d="M529 299h3v1h-3zM530 298h1v3h-1z"/><path d="M549 296h3v1h-3zM550 295h1v3h-1z"/><path d="M569 294h3v1h-3zM570 293h1v3h-1z"/><path d="M589 272h3v1h-3zM590 271h1v3h-1z"/><path d="M609 284h3v1h-3zM610 283h1v3h-1z"/><path d="M629 289h3v1h-3zM630 288h1v3h-1z"/><path d="M649 296h3v1h-3zM650 295h1v3h-1z"/></g>
<g fill="#8080ff" shape-rendering="crispEdges"><path d="M129 328h3v1h-3zM130 327h1v3h-1z"/><path d="M149 325h3v1h-3zM150 324h1v3h-1z"/><path d="M169 326h3v1h-3zM170 325h1v3h-1z"/><path d="M189 311h3v1h-3zM190 310h1v3h-1z"/><path d="M209 320h3v1h-3zM210 319h1v3h-1z"/><path d="M229 330h3v1h-3zM230 329h1v3h-1z"/><path d="M249 326h3v1h-3zM250 325h1v3h-1z"/><path d="M269 308h3v1h-3zM270 307h1v3h-1z"/><path d="M289 331h3v1h-3zM290 330h1v3h-1z"/><path d="M309 332h3v1h-3zM310 331h1v3h-1z"/><path d="M329 336h3v1h-3zM330 335h1v3h-1z"/><path d="M349 316h3v1h-3zM350 315h1v3h-1z"/><path d="M369 328h3v1h-3zM370 327h1v3h-1z"/><path d="M389 342h3v1h-3zM390 341h1v3h-1z"/><path d="M409 351h3v1h-3zM410 350h1v3h-1z"/><path d="M429 330h3v1h-3zM430 329h1v3h-1z"/><path d="M449 338h3v1h-3zM450 337h1v3h-1z"/><path d="M469 346h3v1h-3zM470 345h1v3h-1z"/><path d="M489 352h3v1h-3zM490 351h1v3h-1z"/><path d="M509 318h3v1h-3zM510 317h1v3h-1z"/><path d="M529 326h3v1h-3zM530 325h1v3h-1z"/><path d="M549 338h3v1h-3zM550 337h1v3h-1z"/><path d="M569 339h3v1h-3zM570 338h1v3h-1z"/><path d="M589 301h3v1h-3zM590 300h1v3h-1z"/><path d="M609 301h3v1h-3zM610 300h1v3h-1z"/><path d="M629 296h3v1h-3zM630 295h1v3h-1z"/><path d="M649 288h3v1h-3zM650 287h1v3h-1z"/></g>
<g fill="#80ff80" shape-rendering="crispEdges"><path d="M129 327h3v1h-3zM130 326h1v3h-1z"/><path d="M149 325h3v1h-3zM150 324h1v3h-1z"/><path d="M169 325h3v1h-3zM170 324h1v3h-1z"/><path d="M189 310h3v1h-3zM190 309h1v3h-1z"/><path d="M209 320h3v1h-3zM210 319h1v3h-1z"/><path d="M229 331h3v1h-3zM230 330h1v3h-1z"/><path d="M249 328h3v1h-3zM250 327h1v3h-1z"/><path d="M269 310h3v1h-3zM270 309h1v3h-1z"/><path d="M289 321h3v1h-3zM290 320h1v3h-1z"/><path d="M309 329h3v1h-3zM310 328h1v3h-1z"/><path d="M329 335h3v1h-3zM330 334h1v3h-1z"/><path d="M349 320h3v1h-3zM350 319h1v3h-1z"/><path d="M369 330h3v1h-3zM370 329h1v3h-1z"/><path d="M389 340h3v1h-3zM390 339h1v3h-1z"/><path d="M409 350h3v1h-3zM410 349h1v3h-1z"/><path d="M429 328h3v1h-3zM430 327h1v3h-1z"/><path d="M449 336h3v1h-3zM450 335h1v3h-1z"/><path d="M469 344h3v1h-3zM470 343h1v3h-1z"/><path d="M489 348h3v1h-3zM490 347h1v3h-1z"/><path d="M509 316h3v1h-3zM510 315h1v3h-1z"/><path d="M529 324h3v1h-3zM530 323h1v3h-1z"/><path d="M549 332h3v1h-3zM550 331h1v3h-1z"/><path d="M569 336h3v1h-3zM570 335h1v3h-1z"/><path d="M589 300h3v1h-3zM590 299h1v3h-1z"/><path d="M609 285h3v1h-3zM610 284h1v3h-1z"/><path d="M629 276h3v1h-3zM630 275h1v3h-1z"/><path d="M649 272h3v1h-3zM650 271h1v3h-1z"/></g>
<g fill="#8080ff" shape-rendering="crispEdges"><path d="M129 328h3v1h-3zM130 327h1v3h-1z"/><path d="M149 325h3v1h-3zM150 324h1v3h-1z"/><path d="M169 325h3v1h-3zM170 324h1v3h-1z"/><path d="M189 310h3v1h-3zM190 309h1v3h-1z"/><path d="M209 320h3v1h-3zM210 319h1v3h-1z"/><path d="M229 331h3v1h-3zM230 330h1v3h-1z"/><path d="M249 324h3v1h-3zM250 323h1v3h-1z"/><path d="M269 306h3v1h-3zM270 305h1v3h-1z"/><path d="M289 328h3v1h-3zM290 327h1v3h-1z"/><path d="M309 334h3v1h-3zM310 333h1v3h-1z"/><path d="M329 339h3v1h-3zM330 338h1v3h-1z"/><path d="M349 322h3v1h-3zM350 321h1v3h-1z"/><path d="M369 329h3v1h-3zM370 328h1v3h-1z"/><path d="M389 342h3v1h-3zM390 341h1v3h-1z"/><path d="M409 353h3v1h-3zM410 352h1v3h-1z"/><path d="M429 330h3v1h-3zM430 329h1v3h-1z"/><path d="M449 340h3v1h-3zM450 339h1v3h-1z"/><path d="M469 346h3v1h-3zM470 345h1v3h-1z"/><path d="M489 352h3v1h-3zM490 351h1v3h-1z"/><path d="M509 320h3v1h-3zM510 319h1v3h-1z"/><path d="M529 328h3v1h-3zM530 327h1v3h-1z"/><path d="M549 339h3v1h-3zM550 338h1v3h-1z"/><path d="M569 340h3v1h-3zM570 339h1v3h-1z"/><path d="M589 304h3v1h-3zM590 303h1v3h-1z"/><path d="M609 314h3v1h-3zM610 313h1v3h-1z"/><path d="M629 308h3v1h-3zM630 307h1v3h-1z"/><path d="M649 298h3v1h-3zM650 297h1v3h-1z"/></g>
<g fill="#e0a840" shape-rendering="crispEdges"><path d="M129 330h3v1h-3zM130 329h1v3h-1z"/><path d="M149 326h3v1h-3zM150 325h1v3h-1z"/><path d="M169 326h3v1h-3zM170 325h1v3h-1z"/><path d="M189 311h3v1h-3zM190 310h1v3h-1z"/><path d="M209 321h3v1h-3zM210 320h1v3h-1z"/><path d="M229 331h3v1h-3zM230 330h1v3h-1z"/><path d="M249 318h3v1h-3zM250 317h1v3h-1z"/><path d="M269 301h3v1h-3zM270 300h1v3h-1z"/><path d="M289 326h3v1h-3zM290 325h1v3h-1z"/><path d="M309 336h3v1h-3zM310 335h1v3h-1z"/><path d="M329 344h3v1h-3zM330 343h1v3h-1z"/><path d="M349 324h3v1h-3zM350 323h1v3h-1z"/><path d="M369 335h3v1h-3zM370 334h1v3h-1z"/><path d="M389 348h3v1h-3zM390 347h1v3h-1z"/><path d="M409 358h3v1h-3zM410 357h1v3h-1z"/><path d="M429 335h3v1h-3zM430 334h1v3h-1z"/><path d="M449 344h3v1h-3zM450 343h1v3h-1z"/><path d="M469 351h3v1h-3zM470 350h1v3h-1z"/><path d="M489 356h3v1h-3zM490 355h1v3h-1z"/><path d="M509 329h3v1h-3zM510 328h1v3h-1z"/><path d="M529 337h3v1h-3zM530 336h1v3h-1z"/><path d="M549 346h3v1h-3zM550 345h1v3h-1z"/><path d="M569 344h3v1h-3zM570 343h1v3h-1z"/><path d="M589 302h3v1h-3zM590 301h1v3h-1z"/><path d="M609 306h3v1h-3zM610 305h1v3h-1z"/><path d="M629 302h3v1h-3zM630 301h1v3h-1z"/><path d="M649 294h3v1h-3zM650 293h1v3h-1z"/></g>
<g fill="#80a810" shape-rendering="crispEdges"><path d="M129 328h3v1h-3zM130 327h1v3h-1z"/><path d="M149 326h3v1h-3zM150 325h1v3h-1z"/><path d="M169 325h3v1h-3zM170 324h1v3h-1z"/><path d="M189 310h3v1h-3zM190 309h1v3h-1z"/><path d="M209 320h3v1h-3zM210 319h1v3h-1z"/><path d="M229 332h3v1h-3zM230 331h1v3h-1z"/><path d="M249 331h3v1h-3zM250 330h1v3h-1z"/><path d="M269 298h3v1h-3zM270 297h1v3h-1z"/><path d="M289 324h3v1h-3zM290 323h1v3h-1z"/><path d="M309 336h3v1h-3zM310 335h1v3h-1z"/><path d="M329 341h3v1h-3zM330 340h1v3h-1z"/><path d="M349 322h3v1h-3zM350 321h1v3h-1z"/><path d="M369 331h3v1h-3zM370 330h1v3h-1z"/><path d="M389 344h3v1h-3zM390 343h1v3h-1z"/><path d="M409 352h3v1h-3zM410 351h1v3h-1z"/><path d="M429 332h3v1h-3zM430 331h1v3h-1z"/><path d="M449 343h3v1h-3zM450 342h1v3h-1z"/><path d="M469 358h3v1h-3zM470 357h1v3h-1z"/><path d="M489 368h3v1h-3zM490 367h1v3h-1z"/><path d="M509 343h3v1h-3zM510 342h1v3h-1z"/><path d="M529 349h3v1h-3zM530 348h1v3h-1z"/><path d="M549 359h3v1h-3zM550 358h1v3h-1z"/><path d="M569 366h3v1h-3zM570 365h1v3h-1z"/><path d="M589 339h3v1h-3zM590 338h1v3h-1z"/><path d="M609 340h3v1h-3zM610 339h1v3h-1z"/><path d="M629 334h3v1h-3zM630 333h1v3h-1z"/><path d="M649 325h3v1h-3zM650 324h1v3h-1z"/></g>
<g fill="#006080" shape-rendering="crispEdges"><path d="M129 326h3v1h-3zM130 325h1v3h-1z"/><path d="M149 323h3v1h-3zM150 322h1v3h-1z"/><path d="M169 325h3v1h-3zM170 324h1v3h-1z"/><path d="M189 310h3v1h-3zM190 309h1v3h-1z"/><path d="M209 320h3v1h-3zM210 319h1v3h-1z"/><path d="M229 330h3v1h-3zM230 329h1v3h-1z"/><path d="M249 324h3v1h-3zM250 323h1v3h-1z"/><path d="M269 293h3v1h-3zM270 292h1v3h-1z"/><path d="M289 316h3v1h-3zM290 315h1v3h-1z"/><path d="M309 324h3v1h-3zM310 323h1v3h-1z"/><path d="M329 333h3v1h-3zM330 332h1v3h-1z"/><path d="M349 318h3v1h-3zM350 317h1v3h-1z"/><path d="M369 328h3v1h-3zM370 327h1v3h-1z"/><path d="M389 340h3v1h-3zM390 339h1v3h-1z"/><path d="M409 351h3v1h-3zM410 350h1v3h-1z"/><path d="M429 328h3v1h-3zM430 327h1v3h-1z"/><path d="M449 336h3v1h-3zM450 335h1v3h-1z"/><path d="M469 344h3v1h-3zM470 343h1v3h-1z"/><path d="M489 350h3v1h-3zM490 349h1v3h-1z"/><path d="M509 313h3v1h-3zM510 312h1v3h-1z"/><path d="M529 319h3v1h-3zM530 318h1v3h-1z"/><path d="M549 317h3v1h-3zM550 316h1v3h-1z"/><path d="M569 312h3v1h-3zM570 311h1v3h-1z"/><path d="M589 281h3v1h-3zM590 280h1v3h-1z"/><path d="M609 275h3v1h-3zM610 274h1v3h-1z"/><path d="M629 279h3v1h-3zM630 278h1v3h-1z"/><path d="M649 286h3v1h-3zM650 285h1v3h-1z"/></g>
<g fill="#507080" shape-rendering="crispEdges"><path d="M129 326h3v1h-3zM130 325h1v3h-1z"/><path d="M149 323h3v1h-3zM150 322h1v3h-1z"/><path d="M169 324h3v1h-3zM170 323h1v3h-1z"/><path d="M189 310h3v1h-3zM190 309h1v3h-1z"/><path d="M209 320h3v1h-3zM210 319h1v3h-1z"/><path d="M229 331h3v1h-3zM230 330h1v3h-1z"/><path d="M249 326h3v1h-3zM250 325h1v3h-1z"/><path d="M269 313h3v1h-3zM270 312h1v3h-1z"/><path d="M289 323h3v1h-3zM290 322h1v3h-1z"/><path d="M309 332h3v1h-3zM310 331h1v3h-1z"/><path d="M329 338h3v1h-3zM330 337h1v3h-1z"/><path d="M349 318h3v1h-3zM350 317h1v3h-1z"/><path d="M369 328h3v1h-3zM370 327h1v3h-1z"/><path d="M389 340h3v1h-3zM390 339h1v3h-1z"/><path d="M409 349h3v1h-3zM410 348h1v3h-1z"/><path d="M429 326h3v1h-3zM430 325h1v3h-1z"/><path d="M449 334h3v1h-3zM450 333h1v3h-1z"/><path d="M469 340h3v1h-3zM470 339h1v3h-1z"/><path d="M489 347h3v1h-3zM490 346h1v3h-1z"/><path d="M509 318h3v1h-3zM510 317h1v3h-1z"/><path d="M529 321h3v1h-3zM530 320h1v3h-1z"/><path d="M549 325h3v1h-3zM550 324h1v3h-1z"/><path d="M569 328h3v1h-3zM570 327h1v3h-1z"/><path d="M589 304h3v1h-3zM590 303h1v3h-1z"/><path d="M609 308h3v1h-3zM610 307h1v3h-1z"/><path d="M629 316h3v1h-3zM630 315h1v3h-1z"/><path d="M649 318h3v1h-3zM650 317h1v3h-1z"/></g>
<g fill="#806070" shape-rendering="crispEdges"><path d="M129 328h3v1h-3zM130 327h1v3h-1z"/><path d="M149 325h3v1h-3zM150 324h1v3h-1z"/><path d="M169 325h3v1h-3zM170 324h1v3h-1z"/><path d="M189 310h3v1h-3zM190 309h1v3h-1z"/><path d="M209 320h3v1h-3zM210 319h1v3h-1z"/><path d="M229 330h3v1h-3zM230 329h1v3h-1z"/><path d="M249 328h3v1h-3zM250 327h1v3h-1z"/><path d="M269 307h3v1h-3zM270 306h1v3h-1z"/><path d="M289 325h3v1h-3zM290 324h1v3h-1z"/><path d="M309 334h3v1h-3zM310 333h1v3h-1z"/><path d="M329 340h3v1h-3zM330 339h1v3h-1z"/><path d="M349 320h3v1h-3zM350 319h1v3h-1z"/><path d="M369 330h3v1h-3zM370 329h1v3h-1z"/><path d="M389 342h3v1h-3zM390 341h1v3h-1z"/><path d="M409 352h3v1h-3zM410 351h1v3h-1z"/><path d="M429 330h3v1h-3zM430 329h1v3h-1z"/><path d="M449 340h3v1h-3zM450 339h1v3h-1z"/><path d="M469 346h3v1h-3zM470 345h1v3h-1z"/><path d="M489 352h3v1h-3zM490 351h1v3h-1z"/><path d="M509 320h3v1h-3zM510 319h1v3h-1z"/><path d="M529 328h3v1h-3zM530 327h1v3h-1z"/><path d="M549 336h3v1h-3zM550 335h1v3h-1z"/><path d="M569 341h3v1h-3zM570 340h1v3h-1z"/><path d="M589 307h3v1h-3zM590 306h1v3h-1z"/><path d="M609 318h3v1h-3zM610 317h1v3h-1z"/><path d="M629 326h3v1h-3zM630 325h1v3h-1z"/><path d="M649 326h3v1h-3zM650 325h1v3h-1z"/></g>
<g fill="#c0c0c0" shape-rendering="crispEdges"><path d="M129 328h3v1h-3zM130 327h1v3h-1z"/><path d="M149 325h3v1h-3zM150 324h1v3h-1z"/><path d="M169 325h3v1h-3zM170 324h1v3h-1z"/><path d="M189 310h3v1h-3zM190 309h1v3h-1z"/><path d="M209 320h3v1h-3zM210 319h1v3h-1z"/><path d="M229 332h3v1h-3zM230 331h1v3h-1z"/><path d="M249 340h3v1h-3zM250 339h1v3h-1z"/><path d="M269 296h3v1h-3zM270 295h1v3h-1z"/><path d="M289 308h3v1h-3zM290 307h1v3h-1z"/><path d="M309 330h3v1h-3zM310 329h1v3h-1z"/><path d="M329 339h3v1h-3zM330 338h1v3h-1z"/><path d="M349 322h3v1h-3zM350 321h1v3h-1z"/><path d="M369 329h3v1h-3zM370 328h1v3h-1z"/><path d="M389 340h3v1h-3zM390 339h1v3h-1z"/><path d="M409 346h3v1h-3zM410 345h1v3h-1z"/><path d="M429 320h3v1h-3zM430 319h1v3h-1z"/><path d="M449 327h3v1h-3zM450 326h1v3h-1z"/><path d="M469 330h3v1h-3zM470 329h1v3h-1z"/><path d="M489 331h3v1h-3zM490 330h1v3h-1z"/><path d="M509 297h3v1h-3zM510 296h1v3h-1z"/><path d="M529 312h3v1h-3zM530 311h1v3h-1z"/><path d="M549 320h3v1h-3zM550 319h1v3h-1z"/><path d="M569 322h3v1h-3zM570 321h1v3h-1z"/><path d="M589 290h3v1h-3zM590 289h1v3h-1z"/><path d="M609 300h3v1h-3zM610 299h1v3h-1z"/><path d="M629 308h3v1h-3zM630 307h1v3h-1z"/><path d="M649 313h3v1h-3zM650 312h1v3h-1z"/></g>
<g fill="#808080" shape-rendering="crispEdges"><path d="M129 326h3v1h-3zM130 325h1v3h-1z"/><path d="M149 322h3v1h-3zM150 321h1v3h-1z"/><path d="M169 325h3v1h-3zM170 324h1v3h-1z"/><path d="M189 310h3v1h-3zM190 309h1v3h-1z"/><path d="M209 320h3v1h-3zM210 319h1v3h-1z"/><path d="M229 330h3v1h-3zM230 329h1v3h-1z"/><path d="M249 324h3v1h-3zM250 323h1v3h-1z"/><path d="M269 290h3v1h-3zM270 289h1v3h-1z"/><path d="M289 322h3v1h-3zM290 321h1v3h-1z"/><path d="M309 332h3v1h-3zM310 331h1v3h-1z"/><path d="M329 339h3v1h-3zM330 338h1v3h-1z"/><path d="M349 318h3v1h-3zM350 317h1v3h-1z"/><path d="M369 326h3v1h-3zM370 325h1v3h-1z"/><path d="M389 336h3v1h-3zM390 335h1v3h-1z"/><path d="M409 335h3v1h-3zM410 334h1v3h-1z"/><path d="M429 312h3v1h-3zM430 311h1v3h-1z"/><path d="M449 322h3v1h-3zM450 321h1v3h-1z"/><path d="M469 318h3v1h-3zM470 317h1v3h-1z"/><path d="M489 320h3v1h-3zM490 319h1v3h-1z"/><path d="M509 281h3v1h-3zM510 280h1v3h-1z"/><path d="M529 294h3v1h-3zM530 293h1v3h-1z"/><path d="M549 291h3v1h-3zM550 290h1v3h-1z"/><path d="M569 284h3v1h-3zM570 283h1v3h-1z"/><path d="M589 266h3v1h-3zM590 265h1v3h-1z"/><path d="M609 274h3v1h-3zM610 273h1v3h-1z"/><path d="M629 271h3v1h-3zM630 270h1v3h-1z"/><path d="M649 287h3v1h-3zM650 286h1v3h-1z"/></g>
<polyline class="th" stroke="#ff0000" stroke-width="2.75" points="50.5,347.0 70.5,353.6 90.5,369.3 110.5,346.5 130.5,328.6 150.5,325.7 170.5,325.7 190.5,310.7 210.5,320.4 230.5,330.7 250.5,325.0 270.5,304.3 290.5,322.9 310.5,332.0 330.5,338.6 350.5,320.0 370.5,328.3 390.5,340.0 410.5,348.6 430.5,323.7 450.5,329.4 470.5,335.8 490.5,338.6 510.5,310.0 530.5,316.2 550.5,319.3 570.5,317.5 590.5,294.4 610.5,298.2 630.5,298.5 650.5,297.6"/>
</g>
<g class="ax">
<text x="19.5" y="27">40</text>
<text x="669.5" y="27">75</text>
<text x="19.5" y="62">35</text>
<text x="669.5" y="62">70</text>
<text x="19.5" y="97">30</text>
<text x="669.5" y="97">65</text>
<text x="19.5" y="132">25</text>
<text x="669.5" y="132">60</text>
<text x="19.5" y="167">20</text>
<text x="669.5" y="167">55</text>
<text x="19.5" y="202">15</text>
<text x="669.5" y="202">50</text>
<text x="19.5" y="237">10</text>
<text x="669.5" y="237">45</text>
<text x="19.5" y="272">5</text>
<text x="669.5" y="272">40</text>
<text x="19.5" y="307">0</text>
<text x="669.5" y="307">35</text>
<text x="19.7" y="342">−<tspan dx="-0.7">5</tspan></text>
<text x="669.5" y="342">30</text>
<text x="19.7" y="377">−<tspan dx="-0.7">10</tspan></text>
<text x="669.5" y="377">25</text>
<text x="19.7" y="412">−<tspan dx="-0.7">15</tspan></text>
<text x="669.5" y="412">20</text>
<text x="19.7" y="447">−<tspan dx="-0.7">20</tspan></text>
<text x="669.5" y="447">15</text>
<text x="19.7" y="482">−<tspan dx="-0.7">25</tspan></text>
<text x="669.5" y="482">10</text>
<text x="19.7" y="517">−<tspan dx="-0.7">30</tspan></text>
<text x="669.5" y="517">5</text>
<text x="19.7" y="552">−<tspan dx="-0.7">35</tspan></text>
<text x="669.5" y="552">0</text>
</g>
<text class="m" transform="translate(60,539) scale(1.0000,1.2)" xml:space="preserve">Précipitations</text>
<text class="m" transform="translate(19.5,611) scale(1.0000,1.2)" xml:space="preserve">(°C)</text>
<text class="m" transform="translate(670,611) scale(1.0000,1.2)" xml:space="preserve">(mm)</text>
<text class="m" transform="translate(81.5,632) rotate(-90) scale(1.0000,1.2)" xml:space="preserve">O7/O2</text>
<text class="m" transform="translate(161.5,632) rotate(-90) scale(1.0000,1.2)" xml:space="preserve">O8/O2</text>
<text class="m" transform="translate(241.5,632) rotate(-90) scale(1.0000,1.2)" xml:space="preserve">O9/O2</text>
<text class="m" transform="translate(321.5,632) rotate(-90) scale(1.0000,1.2)" xml:space="preserve">1O/O2</text>
<text class="m" transform="translate(401.5,632) rotate(-90) scale(1.0000,1.2)" xml:space="preserve">11/O2</text>
<text class="m" transform="translate(481.5,632) rotate(-90) scale(1.0000,1.2)" xml:space="preserve">12/O2</text>
<text class="m" transform="translate(561.5,632) rotate(-90) scale(1.0000,1.2)" xml:space="preserve">13/O2</text>
<text class="m" transform="translate(641.5,632) rotate(-90) scale(1.0000,1.2)" xml:space="preserve">14/O2</text>
<g transform="translate(111.9,580.8) rotate(-90)"><text class="pc" x="0.2" y="0">10</text><text class="pc" style="letter-spacing:0" transform="translate(10.1,0) scale(0.66,1)">%</text></g>
<g transform="translate(131.9,580.8) rotate(-90)"><text class="pc" x="0.2" y="0">100</text><text class="pc" style="letter-spacing:0" transform="translate(15.1,0) scale(0.66,1)">%</text></g>
<g transform="translate(151.9,580.8) rotate(-90)"><text class="pc" x="0.2" y="0">95</text><text class="pc" style="letter-spacing:0" transform="translate(10.1,0) scale(0.66,1)">%</text></g>
<g transform="translate(171.9,580.8) rotate(-90)"><text class="pc" x="0.2" y="0">95</text><text class="pc" style="letter-spacing:0" transform="translate(10.1,0) scale(0.66,1)">%</text></g>
<g transform="translate(191.9,580.8) rotate(-90)"><text class="pc" x="0.2" y="0">90</text><text class="pc" style="letter-spacing:0" transform="translate(10.1,0) scale(0.66,1)">%</text></g>
<g transform="translate(251.9,580.8) rotate(-90)"><text class="pc" x="0.2" y="0">45</text><text class="pc" style="letter-spacing:0" transform="translate(10.1,0) scale(0.66,1)">%</text></g>
<g transform="translate(271.9,580.8) rotate(-90)"><text class="pc" x="0.2" y="0">90</text><text class="pc" style="letter-spacing:0" transform="translate(10.1,0) scale(0.66,1)">%</text></g>
<g transform="translate(291.9,580.8) rotate(-90)"><text class="pc" x="0.2" y="0">35</text><text class="pc" style="letter-spacing:0" transform="translate(10.1,0) scale(0.66,1)">%</text></g>
<g transform="translate(311.9,580.8) rotate(-90)"><text class="pc" x="0.2" y="0">20</text><text class="pc" style="letter-spacing:0" transform="translate(10.1,0) scale(0.66,1)">%</text></g>
<g transform="translate(331.9,580.8) rotate(-90)"><text class="pc" x="0.2" y="0">10</text><text class="pc" style="letter-spacing:0" transform="translate(10.1,0) scale(0.66,1)">%</text></g>
<g transform="translate(351.9,580.8) rotate(-90)"><text class="pc" x="0.2" y="0">15</text><text class="pc" style="letter-spacing:0" transform="translate(10.1,0) scale(0.66,1)">%</text></g>
<g transform="translate(371.9,580.8) rotate(-90)"><text class="pc" x="0.2" y="0">5</text><text class="pc" style="letter-spacing:0" transform="translate(5.1,0) scale(0.66,1)">%</text></g>
<g transform="translate(391.9,580.8) rotate(-90)"><text class="pc" x="0.2" y="0">5</text><text class="pc" style="letter-spacing:0" transform="translate(5.1,0) scale(0.66,1)">%</text></g>
<g transform="translate(411.9,580.8) rotate(-90)"><text class="pc" x="0.2" y="0">5</text><text class="pc" style="letter-spacing:0" transform="translate(5.1,0) scale(0.66,1)">%</text></g>
<g transform="translate(431.9,580.8) rotate(-90)"><text class="pc" x="0.2" y="0">5</text><text class="pc" style="letter-spacing:0" transform="translate(5.1,0) scale(0.66,1)">%</text></g>
<g transform="translate(451.9,580.8) rotate(-90)"><text class="pc" x="0.2" y="0">5</text><text class="pc" style="letter-spacing:0" transform="translate(5.1,0) scale(0.66,1)">%</text></g>
<g transform="translate(471.9,580.8) rotate(-90)"><text class="pc" x="0.2" y="0">5</text><text class="pc" style="letter-spacing:0" transform="translate(5.1,0) scale(0.66,1)">%</text></g>
<g transform="translate(491.9,580.8) rotate(-90)"><text class="pc" x="0.2" y="0">5</text><text class="pc" style="letter-spacing:0" transform="translate(5.1,0) scale(0.66,1)">%</text></g>
<g transform="translate(511.9,580.8) rotate(-90)"><text class="pc" x="0.2" y="0">5</text><text class="pc" style="letter-spacing:0" transform="translate(5.1,0) scale(0.66,1)">%</text></g>
<g transform="translate(531.9,580.8) rotate(-90)"><text class="pc" x="0.2" y="0">10</text><text class="pc" style="letter-spacing:0" transform="translate(10.1,0) scale(0.66,1)">%</text></g>
<g transform="translate(551.9,580.8) rotate(-90)"><text class="pc" x="0.2" y="0">5</text><text class="pc" style="letter-spacing:0" transform="translate(5.1,0) scale(0.66,1)">%</text></g>
<g transform="translate(571.9,580.8) rotate(-90)"><text class="pc" x="0.2" y="0">10</text><text class="pc" style="letter-spacing:0" transform="translate(10.1,0) scale(0.66,1)">%</text></g>
<g transform="translate(591.9,580.8) rotate(-90)"><text class="pc" x="0.2" y="0">5</text><text class="pc" style="letter-spacing:0" transform="translate(5.1,0) scale(0.66,1)">%</text></g>
<g transform="translate(611.9,580.8) rotate(-90)"><text class="pc" x="0.2" y="0">5</text><text class="pc" style="letter-spacing:0" transform="translate(5.1,0) scale(0.66,1)">%</text></g>
<g transform="translate(631.9,580.8) rotate(-90)"><text class="pc" x="0.2" y="0">20</text><text class="pc" style="letter-spacing:0" transform="translate(10.1,0) scale(0.66,1)">%</text></g>
<g transform="translate(651.9,580.8) rotate(-90)"><text class="pc" x="0.2" y="0">15</text><text class="pc" style="letter-spacing:0" transform="translate(10.1,0) scale(0.66,1)">%</text></g>
<defs><g id="sn" shape-rendering="crispEdges"><rect x="4" y="0" width="1" height="1" fill="#e4defa"/><rect x="5" y="0" width="1" height="1" fill="#2ca9f1"/><rect x="6" y="0" width="1" height="1" fill="#e4defa"/><rect x="2" y="1" width="1" height="1" fill="#2ca9f1"/><rect x="3" y="1" width="1" height="1" fill="#e4defa"/><rect x="4" y="1" width="3" height="1" fill="#66c6f8"/><rect x="7" y="1" width="1" height="1" fill="#e4defa"/><rect x="8" y="1" width="1" height="1" fill="#2ca9f1"/><rect x="1" y="2" width="2" height="1" fill="#2ca9f1"/><rect x="3" y="2" width="1" height="1" fill="#66c6f8"/><rect x="4" y="2" width="1" height="1" fill="#ffffff"/><rect x="5" y="2" width="1" height="1" fill="#66c6f8"/><rect x="6" y="2" width="1" height="1" fill="#ffffff"/><rect x="7" y="2" width="1" height="1" fill="#66c6f8"/><rect x="8" y="2" width="2" height="1" fill="#2ca9f1"/><rect x="0" y="3" width="1" height="1" fill="#e4defa"/><rect x="1" y="3" width="1" height="1" fill="#66c6f8"/><rect x="2" y="3" width="1" height="1" fill="#2ca9f1"/><rect x="3" y="3" width="5" height="1" fill="#66c6f8"/><rect x="8" y="3" width="1" height="1" fill="#2ca9f1"/><rect x="9" y="3" width="1" height="1" fill="#66c6f8"/><rect x="10" y="3" width="1" height="1" fill="#e4defa"/><rect x="0" y="4" width="1" height="1" fill="#e4defa"/><rect x="1" y="4" width="1" height="1" fill="#c4eafc"/><rect x="2" y="4" width="7" height="1" fill="#66c6f8"/><rect x="9" y="4" width="1" height="1" fill="#c4eafc"/><rect x="10" y="4" width="1" height="1" fill="#e4defa"/><rect x="0" y="5" width="1" height="1" fill="#e4defa"/><rect x="1" y="5" width="2" height="1" fill="#ffffff"/><rect x="3" y="5" width="5" height="1" fill="#66c6f8"/><rect x="8" y="5" width="2" height="1" fill="#ffffff"/><rect x="10" y="5" width="1" height="1" fill="#e4defa"/><rect x="0" y="6" width="1" height="1" fill="#e4defa"/><rect x="1" y="6" width="1" height="1" fill="#c4eafc"/><rect x="2" y="6" width="7" height="1" fill="#66c6f8"/><rect x="9" y="6" width="1" height="1" fill="#c4eafc"/><rect x="10" y="6" width="1" height="1" fill="#e4defa"/><rect x="0" y="7" width="1" height="1" fill="#e4defa"/><rect x="1" y="7" width="1" height="1" fill="#66c6f8"/><rect x="2" y="7" width="1" height="1" fill="#2ca9f1"/><rect x="3" y="7" width="5" height="1" fill="#66c6f8"/><rect x="8" y="7" width="1" height="1" fill="#2ca9f1"/><rect x="9" y="7" width="1" height="1" fill="#66c6f8"/><rect x="10" y="7" width="1" height="1" fill="#e4defa"/><rect x="1" y="8" width="2" height="1" fill="#2ca9f1"/><rect x="3" y="8" width="1" height="1" fill="#66c6f8"/><rect x="4" y="8" width="1" height="1" fill="#ffffff"/><rect x="5" y="8" width="1" height="1" fill="#66c6f8"/><rect x="6" y="8" width="1" height="1" fill="#ffffff"/><rect x="7" y="8" width="1" height="1" fill="#66c6f8"/><rect x="8" y="8" width="2" height="1" fill="#2ca9f1"/><rect x="2" y="9" width="1" height="1" fill="#2ca9f1"/><rect x="3" y="9" width="1" height="1" fill="#e4defa"/><rect x="4" y="9" width="1" height="1" fill="#66c6f8"/><rect x="5" y="9" width="1" height="1" fill="#2ca9f1"/><rect x="6" y="9" width="1" height="1" fill="#66c6f8"/><rect x="7" y="9" width="1" height="1" fill="#e4defa"/><rect x="8" y="9" width="1" height="1" fill="#2ca9f1"/><rect x="4" y="10" width="1" height="1" fill="#e4defa"/><rect x="5" y="10" width="1" height="1" fill="#2ca9f1"/><rect x="6" y="10" width="1" height="1" fill="#e4defa"/></g></defs>
<use href="#sn" x="105" y="583"/>
<use href="#sn" x="125" y="583"/>
<use href="#sn" x="145" y="583"/>
<use href="#sn" x="165" y="583"/>
<use href="#sn" x="185" y="583"/>
<use href="#sn" x="245" y="583"/>
<use href="#sn" x="265" y="583"/>
<use href="#sn" x="285" y="583"/>
<use href="#sn" x="305" y="583"/>
<use href="#sn" x="325" y="583"/>
<use href="#sn" x="345" y="583"/>
<use href="#sn" x="365" y="583"/>
<use href="#sn" x="385" y="583"/>
<use href="#sn" x="405" y="583"/>
<use href="#sn" x="425" y="583"/>
<use href="#sn" x="445" y="583"/>
<use href="#sn" x="465" y="583"/>
<use href="#sn" x="485" y="583"/>
<use href="#sn" x="505" y="583"/>
<use href="#sn" x="525" y="583"/>
<use href="#sn" x="545" y="583"/>
<use href="#sn" x="565" y="583"/>
<use href="#sn" x="585" y="583"/>
<use href="#sn" x="605" y="583"/>
<use href="#sn" x="625" y="583"/>
<use href="#sn" x="645" y="583"/>
<g shape-rendering="crispEdges"><rect x="35" y="650" width="31" height="4" fill="#ff0000"/><rect x="225" y="635" width="31" height="4" fill="#0000ff"/><rect x="225" y="645" width="31" height="4" fill="#000"/></g>
<text class="m" transform="translate(75,656) scale(1.0000,1.2)" xml:space="preserve">Moyenne des scénarios</text>
<text class="m" transform="translate(264,641) scale(1.0000,1.2)" xml:space="preserve">Run de contrôle</text>
<text class="m" transform="translate(264,651) scale(1.0000,1.2)" xml:space="preserve">Run GFS</text>
<text class="m" transform="translate(369.6,656) scale(1.0000,1.2)" xml:space="preserve">2O Perturbations</text>
<g shape-rendering="crispEdges">
<rect x="470" y="650" width="10" height="6" fill="#008080"/>
<rect x="481" y="650" width="10" height="6" fill="#c0c000"/>
<rect x="492" y="650" width="10" height="6" fill="#008000"/>
<rect x="503" y="650" width="10" height="6" fill="#ff8000"/>
<rect x="514" y="650" width="10" height="6" fill="#00ff00"/>
<rect x="525" y="650" width="10" height="6" fill="#800080"/>
<rect x="536" y="650" width="10" height="6" fill="#00ff80"/>
<rect x="547" y="650" width="10" height="6" fill="#ff00ff"/>
<rect x="558" y="650" width="10" height="6" fill="#80ff00"/>
<rect x="569" y="650" width="10" height="6" fill="#0080ff"/>
<rect x="580" y="650" width="10" height="6" fill="#8080ff"/>
<rect x="591" y="650" width="10" height="6" fill="#80ff80"/>
<rect x="602" y="650" width="10" height="6" fill="#8080ff"/>
<rect x="613" y="650" width="10" height="6" fill="#e0a840"/>
<rect x="624" y="650" width="10" height="6" fill="#80a810"/>
<rect x="635" y="650" width="10" height="6" fill="#006080"/>
<rect x="646" y="650" width="10" height="6" fill="#507080"/>
<rect x="657" y="650" width="10" height="6" fill="#806070"/>
<rect x="668" y="650" width="10" height="6" fill="#c0c0c0"/>
<rect x="679" y="650" width="10" height="6" fill="#808080"/>
</g>
<text class="t" transform="translate(470.7,647) scale(1,1.08)">01</text>
<text class="t" transform="translate(481.7,647) scale(1,1.08)">02</text>
<text class="t" transform="translate(492.7,647) scale(1,1.08)">03</text>
<text class="t" transform="translate(503.7,647) scale(1,1.08)">04</text>
<text class="t" transform="translate(514.7,647) scale(1,1.08)">05</text>
<text class="t" transform="translate(525.7,647) scale(1,1.08)">06</text>
<text class="t" transform="translate(536.7,647) scale(1,1.08)">07</text>
<text class="t" transform="translate(547.7,647) scale(1,1.08)">08</text>
<text class="t" transform="translate(558.7,647) scale(1,1.08)">09</text>
<text class="t" transform="translate(569.7,647) scale(1,1.08)">10</text>
<text class="t" transform="translate(580.7,647) scale(1,1.08)">11</text>
<text class="t" transform="translate(591.7,647) scale(1,1.08)">12</text>
<text class="t" transform="translate(602.7,647) scale(1,1.08)">13</text>
<text class="t" transform="translate(613.7,647) scale(1,1.08)">14</text>
<text class="t" transform="translate(624.7,647) scale(1,1.08)">15</text>
<text class="t" transform="translate(635.7,647) scale(1,1.08)">16</text>
<text class="t" transform="translate(646.7,647) scale(1,1.08)">17</text>
<text class="t" transform="translate(657.7,647) scale(1,1.08)">18</text>
<text class="t" transform="translate(668.7,647) scale(1,1.08)">19</text>
<text class="t" transform="translate(679.7,647) scale(1,1.08)">20</text>
<rect x="20.5" y="667.5" width="419" height="31" fill="#fff" stroke="#000" stroke-width="1" shape-rendering="crispEdges"/>
<text class="mb" transform="translate(30,681) scale(0.9722,1)" xml:space="preserve">Diagramme des ensembles GEFS sur 180h : 52.1N 5.5E</text>
<text class="m" transform="translate(30,696) scale(1.0000,1.2)" xml:space="preserve">Température 2m (°C) , précipitations (mm)</text>
<text class="m" transform="translate(450,676) scale(1.0000,1.2)" xml:space="preserve">Ensemble GEFS du O6/O2/2O12 - 18h</text>
<text class="mb" transform="translate(450,696) scale(0.9722,1)" xml:space="preserve">Copyright 2012 Meteociel.fr</text>
</svg></body></html>
